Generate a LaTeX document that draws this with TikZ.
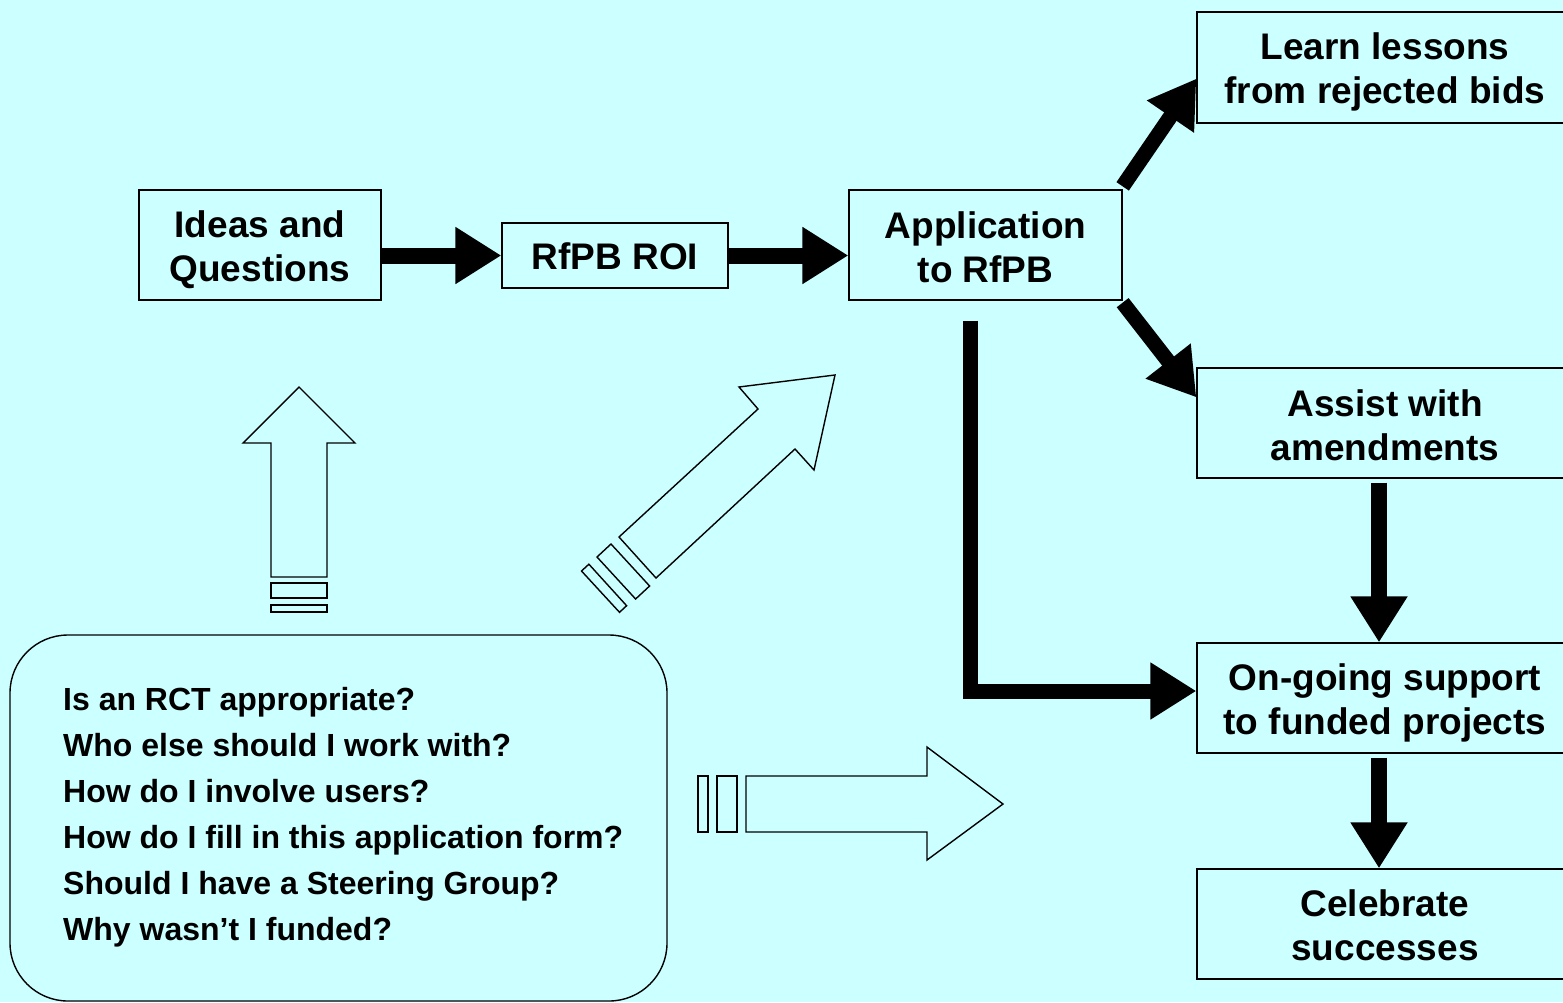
\documentclass[tikz,border=0pt]{standalone}
\usepackage{fontspec}
\setmainfont{Liberation Sans}
\usetikzlibrary{arrows.meta}
\definecolor{bg}{RGB}{204,255,255}
\begin{document}
\begin{tikzpicture}[x=1pt,y=-1pt,
  box/.style={draw=black, line width=1.3pt, inner sep=0pt},
  boxtext/.style={inner sep=0pt, align=center,
    font=\fontsize{37}{44}\selectfont\bfseries},
  thickarr/.style={draw=black, line width=16pt, -{Triangle[length=46pt,width=54pt]}},
  hollow/.style={draw=black, line width=1.4pt, line join=miter},
  qline/.style={anchor=base west, inner sep=0pt, font=\fontsize{32}{38}\selectfont\bfseries}]
\useasboundingbox (0,0) rectangle (1563,1002);
\fill[bg] (0,0) rectangle (1563,1002);

% boxes
\node[box, minimum width=242pt, minimum height=110pt] (ideas) at (260,245) {};
\node[boxtext] (ideasT) at ([yshift=-5pt]ideas.center) {Ideas and\\Questions};
\node[box, minimum width=226pt, minimum height=65pt] (roi) at (615,255.5) {};
\node[boxtext] (roiT) at ([yshift=-1pt]roi.center) {RfPB ROI};
\node[box, minimum width=273pt, minimum height=110pt] (app) at (985.5,245) {};
\node[boxtext] (appT) at ([yshift=-2pt]app.center) {Application\\to RfPB};
\node[box, minimum width=376pt, minimum height=111pt] (learn) at (1385,67.5) {};
\node[boxtext] (learnT) at ([yshift=-4pt]learn.center) {Learn lessons\\from rejected bids};
\node[box, minimum width=376pt, minimum height=110pt] (assist) at (1385,423) {};
\node[boxtext] (assistT) at ([yshift=-2pt]assist.center) {Assist with\\amendments};
\node[box, minimum width=376pt, minimum height=110pt] (ongoing) at (1385,698) {};
\node[boxtext] (ongoingT) at ([yshift=-5pt]ongoing.center) {On-going support\\to funded projects};
\node[box, minimum width=376pt, minimum height=110pt] (celebrate) at (1385,924) {};
\node[boxtext] (celebrateT) at ([yshift=-1pt]celebrate.center) {Celebrate\\successes};

% question box
\node[draw=black, line width=1.4pt, rounded corners=58pt, minimum width=657pt, minimum height=366pt, inner sep=0pt] (qbox) at (338.5,818) {};
\node[qline] (q1) at (63,710) {Is an RCT appropriate?};
\node[qline] (q2) at (63,756) {Who else should I work with?};
\node[qline] (q3) at (63,802) {How do I involve users?};
\node[qline] (q4) at (63,848) {How do I fill in this application form?};
\node[qline] (q5) at (63,894) {Should I have a Steering Group?};
\node[qline] (q6) at (63,940) {Why wasn’t I funded?};

% thick arrows
\draw[thickarr] (ideas.east |- roi.west) -- (roi.west);
\draw[thickarr] (roi.east) -- (app.west |- roi.east);
\draw[thickarr, line width=15pt] ([yshift=3pt]app.north east) -- ([yshift=45pt]learn.south west);
\draw[thickarr, line width=15pt] ([yshift=-2pt]app.south east) -- ([yshift=-30pt]assist.north west);
\draw[thickarr, line width=15pt] ([xshift=-15pt,yshift=-20pt]app.south) |- ([yshift=7pt]ongoing.west);
\draw[thickarr] ([xshift=-6pt,yshift=-4pt]assist.south) -- ([xshift=-6pt]ongoing.north);
\draw[thickarr] ([xshift=-6pt,yshift=-4pt]ongoing.south) -- ([xshift=-6pt]celebrate.north);

% hollow block arrows
\draw[hollow] (299,387) -- (355,443) -- (327,443) -- (327,577) -- (271,577) -- (271,443) -- (243,443) -- cycle;
\draw[hollow] (271,583) rectangle (327,598);
\draw[hollow] (271,605) rectangle (327,612);

\draw[hollow] (835,375) -- (814,470) -- (795,449) -- (656,578) -- (619,537) -- (758,409) -- (739,387) -- cycle;
\draw[hollow] (597,557) -- (611,544) -- (649.6,586) -- (635.6,599) -- cycle;
\draw[hollow] (581.5,571) -- (588.9,564.2) -- (626.6,605.7) -- (619.5,612.3) -- cycle;

\draw[hollow] (746,776) -- (927,776) -- (927,747) -- (1003,804) -- (927,860) -- (927,832) -- (746,832) -- cycle;
\draw[hollow] (717,776) rectangle (737,832);
\draw[hollow] (698,776) rectangle (708,832);
\end{tikzpicture}
\end{document}
